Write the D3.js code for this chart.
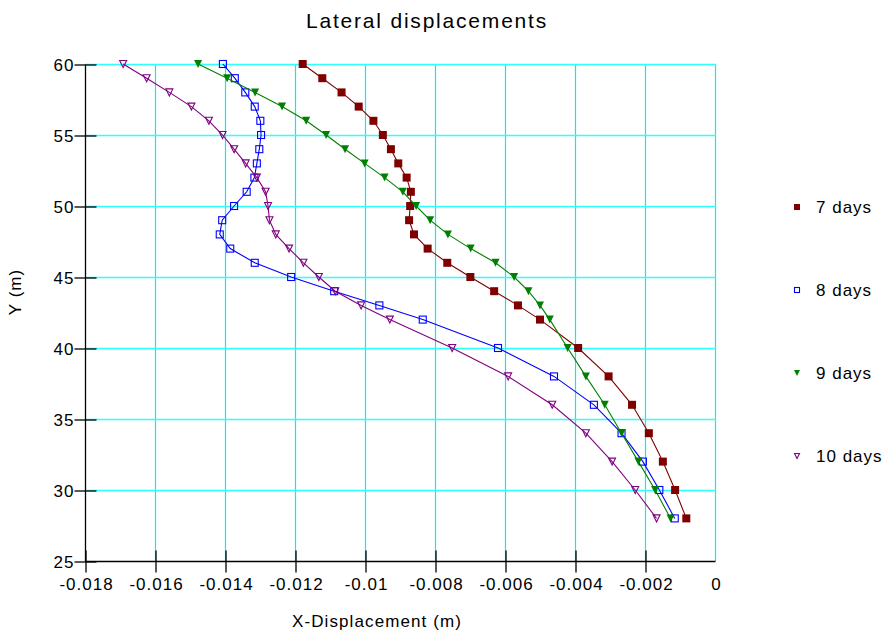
<!DOCTYPE html>
<html>
<head>
<meta charset="utf-8">
<script src="https://cdn.jsdelivr.net/npm/d3@7"></script>
<style>
  html, body { margin: 0; padding: 0; background: #fff; }
  svg { display: block; font-family: "Liberation Sans", Arial, sans-serif; }
</style>
</head>
<body>
<svg id="chart" width="885" height="632"></svg>
<script>
// ---- data ----
const depths = [60,59,58,57,56,55,54,53,52,51,50,49,48,47,46,45,44,43,42,40,38,36,34,32,30,28];
const seriesNames = ["7 days", "8 days", "9 days", "10 days"];
const days7 = [-0.01178,-0.01122,-0.01067,-0.01018,-0.00976,-0.00949,-0.00926,-0.00905,-0.00881,-0.00869,-0.00871,-0.00874,-0.00860,-0.00821,-0.00765,-0.00699,-0.00631,-0.00563,-0.00500,-0.00391,-0.00304,-0.00237,-0.00189,-0.00149,-0.00114,-0.00082];
const days8 = [-0.01406,-0.01372,-0.01342,-0.01315,-0.01299,-0.01297,-0.01302,-0.01309,-0.01316,-0.01338,-0.01374,-0.01408,-0.01415,-0.01385,-0.01315,-0.01211,-0.01088,-0.00959,-0.00835,-0.00620,-0.00460,-0.00346,-0.00267,-0.00206,-0.00159,-0.00115];
const days9 = [-0.01477,-0.01394,-0.01314,-0.01237,-0.01168,-0.01111,-0.01057,-0.01001,-0.00944,-0.00892,-0.00854,-0.00814,-0.00763,-0.00698,-0.00627,-0.00574,-0.00533,-0.00500,-0.00472,-0.00421,-0.00369,-0.00315,-0.00267,-0.00219,-0.00171,-0.00127];
const days10 = [-0.01691,-0.01624,-0.01559,-0.01496,-0.01446,-0.01407,-0.01374,-0.01341,-0.01309,-0.01284,-0.01277,-0.01273,-0.01255,-0.01217,-0.01176,-0.01132,-0.01085,-0.01011,-0.00929,-0.00751,-0.00591,-0.00465,-0.00369,-0.00294,-0.00228,-0.00167];
const xTicks = [-0.018,-0.016,-0.014,-0.012,-0.010,-0.008,-0.006,-0.004,-0.002,0];
const xTickLabels = ["-0.018","-0.016","-0.014","-0.012","-0.01","-0.008","-0.006","-0.004","-0.002","0"];
const yTicks = [25,30,35,40,45,50,55,60];
const colors = ["#800000", "#0000ff", "#008000", "#800080"];
const markerTypes = ["squareFilled", "squareOpen", "triFilled", "triOpen"];

const allSeries = [days7, days8, days9, days10].map((vals, i) => ({
  name: seriesNames[i], color: colors[i], marker: markerTypes[i],
  points: vals.map((v, j) => ({x: v, y: depths[j]}))
}));

// ---- layout ----
const svg = d3.select("#chart");
const L = 85, R = 715, T = 64, B = 561;
const x = d3.scaleLinear().domain([-0.018, 0]).range([L, R]);
const y = d3.scaleLinear().domain([25, 60]).range([B, T]);
const LS = "1px";

// gridlines
const grid = svg.append("g");
grid.selectAll("line.v").data(xTicks.slice(1)).enter().append("line")
  .attr("x1", d => Math.round(x(d)) + 0.5).attr("x2", d => Math.round(x(d)) + 0.5)
  .attr("y1", T).attr("y2", B)
  .attr("stroke", "#00f0f0").attr("stroke-width", 1.2);
grid.selectAll("line.h").data(yTicks.slice(1)).enter().append("line")
  .attr("y1", d => Math.round(y(d)) + 0.5).attr("y2", d => Math.round(y(d)) + 0.5)
  .attr("x1", L).attr("x2", R + 1)
  .attr("stroke", "#30ffff").attr("stroke-width", 1.6);

// axes
const xAxis = d3.axisBottom(x).tickValues(xTicks).tickSizeInner(11).tickSizeOuter(0)
  .tickFormat((d, i) => xTickLabels[i]);
const gx = svg.append("g").attr("transform", `translate(0.5,${B + 0.5})`).call(xAxis);
gx.select(".domain").attr("stroke", "#000").attr("stroke-width", 1.3).attr("d", `M${L},0H${R}`);
gx.selectAll(".tick line").attr("stroke", "#000").attr("y1", -11).attr("y2", 11)
  .attr("stroke-width", 1.3);
gx.selectAll(".tick").filter(d => d === 0).select("line").remove();
gx.selectAll(".tick text").attr("font-size", 17).attr("fill", "#000")
  .attr("font-family", "Liberation Sans, Arial, sans-serif").attr("letter-spacing", LS)
  .attr("dy", "0.71em").attr("y", 16).attr("dx", 0.5);

const yAxis = d3.axisLeft(y).tickValues(yTicks).tickSizeInner(11).tickSizeOuter(0);
const gy = svg.append("g").attr("transform", `translate(${L + 0.5},0.5)`).call(yAxis);
gy.select(".domain").attr("stroke", "#000").attr("stroke-width", 1.3).attr("d", `M0,${T}V${B}`);
gy.selectAll(".tick line").attr("stroke", "#000").attr("x1", -11).attr("x2", 11)
  .attr("stroke-width", 1.3);
gy.selectAll(".tick text").attr("font-size", 17).attr("fill", "#000")
  .attr("font-family", "Liberation Sans, Arial, sans-serif").attr("letter-spacing", LS)
  .attr("x", -11).attr("dy", "0.35em");

// lines + markers
const line = d3.line().x(d => x(d.x)).y(d => y(d.y));
function drawMarker(g, type, color, s) {
  const h = s / 2;
  if (type === "squareFilled") {
    g.append("rect").attr("x", -h).attr("y", -h).attr("width", s).attr("height", s)
      .attr("fill", color).attr("stroke", "none");
  } else if (type === "squareOpen") {
    g.append("rect").attr("x", -h + 0.5).attr("y", -h + 0.5).attr("width", s - 1).attr("height", s - 1)
      .attr("fill", "none").attr("stroke", color).attr("stroke-width", 1.1);
  } else if (type === "triFilled") {
    g.append("path").attr("d", `M${-h},${-h}L${h},${-h}L0,${h}Z`)
      .attr("fill", color).attr("stroke", "none");
  } else {
    g.append("path").attr("d", `M${-h + 0.5},${-h + 0.5}L${h - 0.5},${-h + 0.5}L0,${h - 0.5}Z`)
      .attr("fill", "none").attr("stroke", color).attr("stroke-width", 1.1);
  }
}

allSeries.forEach(s => {
  const g = svg.append("g");
  g.append("path").datum(s.points).attr("d", line)
    .attr("fill", "none").attr("stroke", s.color).attr("stroke-width", 1.1);
  s.points.forEach(p => {
    const m = g.append("g").attr("transform", `translate(${x(p.x)},${y(p.y)})`);
    drawMarker(m, s.marker, s.color, 8);
  });
});

// legend
const legendY = [207, 290, 373, 456];
allSeries.forEach((s, i) => {
  const m = svg.append("g").attr("transform", `translate(797,${legendY[i]})`);
  drawMarker(m, s.marker, s.color, 6);
  svg.append("text").attr("x", 816).attr("y", legendY[i]).attr("dy", "0.35em")
    .attr("font-size", 17).attr("letter-spacing", LS).attr("fill", "#000").text(s.name);
});

// titles
svg.append("text").attr("x", 427).attr("y", 28)
  .attr("text-anchor", "middle").attr("font-size", 21).attr("letter-spacing", "1.8px").attr("fill", "#000")
  .text("Lateral displacements");
svg.append("text").attr("x", 377).attr("y", 627)
  .attr("text-anchor", "middle").attr("font-size", 17).attr("letter-spacing", "1.1px").attr("fill", "#000")
  .text("X-Displacement (m)");
svg.append("text").attr("transform", "translate(15,292) rotate(-90)").attr("dy", "0.35em")
  .attr("text-anchor", "middle").attr("font-size", 17).attr("letter-spacing", LS).attr("fill", "#000")
  .text("Y (m)");
</script>
</body>
</html>
